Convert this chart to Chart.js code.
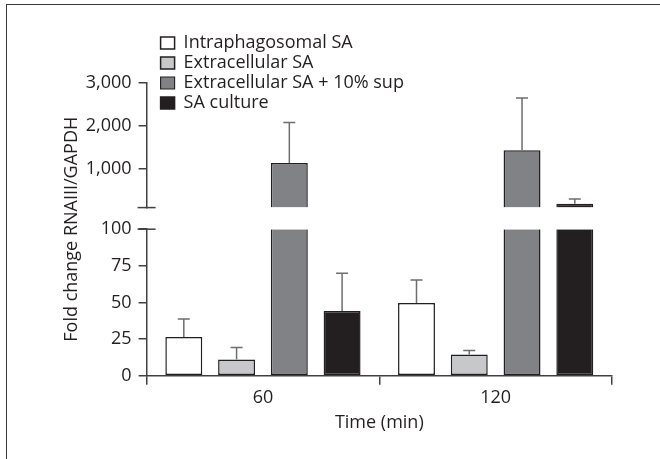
<!DOCTYPE html>
<html>
<head>
<meta charset="utf-8">
<script src="https://cdn.jsdelivr.net/npm/chart.js@4.4.0/dist/chart.umd.min.js"></script>
<style>
  body { margin: 0; background: #fff; }
  #wrap { position: relative; width: 660px; height: 459px; overflow: hidden; }
  #frame { position: absolute; left: 6px; top: 4px; right: -4px; bottom: -4px;
           border-left: 1.5px solid #3a3a3a; border-top: 1.5px solid #3a3a3a; pointer-events: none; }
  canvas { position: absolute; left: 0; top: 0; }
</style>
</head>
<body>
<div id="wrap">
  <canvas id="chart" width="660" height="459"></canvas>
  <div id="frame"></div>
</div>
<script>
// data
const times = ['60', '120'];
const seriesNames = ['Intraphagosomal SA', 'Extracellular SA', 'Extracellular SA + 10% sup', 'SA culture'];
const intraphagosomal = [26.5, 49.7];
const extracellular = [11.1, 14.5];
const extracellularSup = [1138, 1430];
const saCulture = [44.2, 192];
const intraphagosomalErr = [12.3, 15.6];
const extracellularErr = [8.2, 2.7];
const extracellularSupErr = [938, 1216];
const saCultureErr = [25.8, 106];
const lowStep = 25;
const highTicks = [1000, 2000, 3000];
const breakValue = 100;
const highMax = 3000;

const values = [intraphagosomal, extracellular, extracellularSup, saCulture];
const errors = [intraphagosomalErr, extracellularErr, extracellularSupErr, saCultureErr];
const fills = ['#ffffff', '#c7c8ca', '#808285', '#231f20'];
const edge = '#231f20';
const ink = '#231f20';
const axisColor = '#414042';
const font = { family: "'Open Sans', sans-serif", size: 18 };

const lowSets = values.map((vals, s) => ({
    label: seriesNames[s],
    data: vals.map(v => Math.min(v, breakValue)),
    yAxisID: 'yLow',
    stack: 's' + s,
    backgroundColor: fills[s],
    borderColor: edge,
    borderSkipped: false,
    borderWidth: ctx => (ctx.dataIndex !== undefined && vals[ctx.dataIndex] > breakValue)
        ? { top: 0, left: 1.5, right: 1.5, bottom: 1.5 } : 1.5
}));
const highSets = values.map((vals, s) => ({
    label: seriesNames[s],
    data: vals.map(v => v > breakValue ? [breakValue, v] : null),
    yAxisID: 'yHigh',
    stack: 's' + s,
    backgroundColor: fills[s],
    borderColor: edge,
    borderSkipped: false,
    borderWidth: { top: 1.5, left: 1.5, right: 1.5, bottom: 0 }
}));

function valuePixel(chart, v) {
    return v > breakValue ? chart.scales.yHigh.getPixelForValue(v) : chart.scales.yLow.getPixelForValue(v);
}

const errorBars = {
    id: 'errorBars',
    afterDatasetsDraw(chart) {
        const ctx = chart.ctx;
        ctx.save();
        ctx.strokeStyle = '#6d6e71';
        ctx.lineWidth = 1.5;
        values.forEach((vals, s) => {
            const meta = chart.getDatasetMeta(s);
            vals.forEach((v, j) => {
                const bar = meta.data[j];
                const y0 = valuePixel(chart, v);
                const y1 = valuePixel(chart, v + errors[s][j]);
                ctx.beginPath();
                ctx.moveTo(bar.x, y0);
                ctx.lineTo(bar.x, y1);
                ctx.moveTo(bar.x - 6, y1);
                ctx.lineTo(bar.x + 6, y1);
                ctx.stroke();
            });
        });
        ctx.restore();
    }
};

// the little bars across the axis at both sides of the break
const breakMarks = {
    id: 'breakMarks',
    afterDraw(chart) {
        const ctx = chart.ctx;
        const x = chart.chartArea.left;
        ctx.save();
        ctx.strokeStyle = axisColor;
        ctx.lineWidth = 1.5;
        [chart.scales.yHigh.bottom, chart.scales.yLow.top].forEach(y => {
            ctx.beginPath();
            ctx.moveTo(x - 9, y);
            ctx.lineTo(x + 9, y);
            ctx.stroke();
        });
        ctx.restore();
    }
};

// legend sits inside the plot, top left; y title centred on the whole broken axis
const placeBoxes = {
    id: 'placeBoxes',
    afterLayout(chart) {
        const area = chart.chartArea;
        const legend = chart.legend;
        legend.left = area.left + 12;
        legend.top = area.top;
        legend.bottom = area.bottom;
        const gap = chart.scales.yGap;
        const mid = (chart.scales.yHigh.top + chart.scales.yLow.bottom) / 2;
        const shift = mid - (gap.top + gap.bottom) / 2;
        gap.top += shift;
        gap.bottom += shift;
    }
};

const hidden = { grid: { display: false, drawTicks: false }, border: { display: false }, ticks: { display: false } };

new Chart(document.getElementById('chart'), {
    type: 'bar',
    data: {
        labels: times,
        datasets: [...lowSets, ...highSets]
    },
    plugins: [errorBars, breakMarks, placeBoxes],
    options: {
        responsive: false,
        animation: false,
        categoryPercentage: 0.907,
        barPercentage: 0.7,
        layout: { padding: { left: 10, top: 32, right: 48, bottom: 25 } },
        plugins: {
            tooltip: { enabled: false },
            legend: {
                position: 'chartArea',
                align: 'start',
                labels: {
                    boxWidth: 14,
                    boxHeight: 12,
                    padding: 2,
                    color: ink,
                    font: font,
                    filter: item => item.datasetIndex < values.length
                }
            }
        },
        scales: {
            x: {
                type: 'category',
                offset: true,
                grid: { offset: true, drawOnChartArea: false, tickLength: 9, color: axisColor, lineWidth: 1.5 },
                border: { color: axisColor, width: 1.5 },
                ticks: { color: ink, font: font, padding: 2 },
                title: { display: true, text: 'Time (min)', color: ink, font: font, padding: { top: 2, bottom: 0 } }
            },
            yLow: {
                type: 'linear',
                position: 'left',
                stack: 'v',
                stackWeight: 146.7,
                stacked: false,
                beginAtZero: false,
                min: 0,
                max: breakValue,
                grid: { drawOnChartArea: false, tickLength: 8, color: axisColor, lineWidth: 1.5 },
                border: { color: axisColor, width: 1.5 },
                ticks: { stepSize: lowStep, autoSkip: false, color: ink, font: font, padding: 7 }
            },
            yGap: {
                type: 'linear',
                position: 'left',
                stack: 'v',
                stackWeight: 21.6,
                ...hidden,
                title: { display: true, text: 'Fold change RNAIII/GAPDH', color: ink, font: font,
                         padding: { top: 51, bottom: 64 } }
            },
            yHigh: {
                type: 'linear',
                position: 'left',
                stack: 'v',
                stackWeight: 125,
                stacked: false,
                beginAtZero: false,
                min: breakValue,
                max: highMax,
                afterBuildTicks: scale => { scale.ticks = highTicks.map(v => ({ value: v })); },
                grid: { drawOnChartArea: false, tickLength: 8, color: axisColor, lineWidth: 1.5 },
                border: { color: axisColor, width: 1.5 },
                ticks: { autoSkip: false, color: ink, font: font, padding: 7 }
            },
            ySpace: {
                type: 'linear',
                position: 'left',
                stack: 'v',
                stackWeight: 50.7,
                ...hidden
            }
        }
    }
});
</script>
</body>
</html>
